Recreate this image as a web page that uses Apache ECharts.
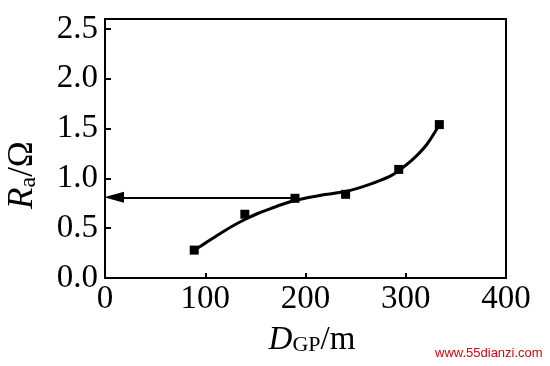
<!DOCTYPE html>
<html><head><meta charset="utf-8">
<script src="https://cdn.jsdelivr.net/npm/echarts@6/dist/echarts.min.js"></script>
<style>html,body{margin:0;padding:0;background:#fff}#c{width:550px;height:366px}</style>
</head><body><div id="c"></div>
<script>
// measured points
const pointD = [89, 139.5, 189.5, 240, 293, 333.5];
const pointR = [0.28, 0.64, 0.80, 0.84, 1.09, 1.54];
// fitted curve
const curveD = [89, 100, 113, 126, 140, 153, 166, 180, 190, 218, 241, 264, 284, 294, 307, 321, 333];
const curveR = [0.28, 0.35, 0.435, 0.515, 0.59, 0.65, 0.70, 0.75, 0.78, 0.835, 0.87, 0.94, 1.02, 1.085, 1.19, 1.34, 1.53];
// arrow (horizontal reading line)
const arrowFrom = [190, 0.81];
const arrowTo = [9, 0.81];
const xTicks = [0, 100, 200, 300, 400];
const yTicks = [0, 0.5, 1.0, 1.5, 2.0, 2.5];

const serif = '"Liberation Serif","Times New Roman",serif';
const chart = echarts.init(document.getElementById('c'));
chart.setOption({
  animation: false,
  backgroundColor: '#fff',
  grid: {left: 105, right: 44, top: 19, bottom: 88, show: true, borderColor: '#000', borderWidth: 2, backgroundColor: 'transparent'},
  xAxis: {
    type: 'value', min: 0, max: 400, interval: 100,
    axisLine: {lineStyle: {color: '#000', width: 2}},
    axisTick: {inside: true, length: 5, lineStyle: {color: '#000', width: 2}},
    splitLine: {show: false},
    axisLabel: {color: '#000', fontFamily: serif, fontSize: 33, margin: 5,
      formatter: v => xTicks.indexOf(v) >= 0 ? String(v) : ''}
  },
  yAxis: {
    type: 'value', min: 0, max: 2.6, interval: 0.5,
    axisLine: {lineStyle: {color: '#000', width: 2}},
    axisTick: {inside: true, length: 6, lineStyle: {color: '#000', width: 2}},
    splitLine: {show: false},
    axisLabel: {color: '#000', fontFamily: serif, fontSize: 33, margin: 7, showMaxLabel: false,
      formatter: v => yTicks.some(t => Math.abs(t - v) < 1e-9) ? v.toFixed(1) : ''}
  },
  graphic: [
    {type: 'text', x: 23, y: 175, rotation: Math.PI / 2, style: {
      text: '{r|R}{s|a}{n|/Ω}', align: 'center', verticalAlign: 'middle',
      rich: {
        r: {fontFamily: serif, fontStyle: 'italic', fontSize: 35, fill: '#000'},
        s: {fontFamily: serif, fontSize: 24, fill: '#000', padding: [11, 0, 0, 0]},
        n: {fontFamily: serif, fontSize: 35, fill: '#000'}
      }}},
    {type: 'text', x: 312, y: 340, style: {
      text: '{r|D}{s|GP}{n|/m}', align: 'center', verticalAlign: 'middle',
      rich: {
        r: {fontFamily: serif, fontStyle: 'italic', fontSize: 33, fill: '#000'},
        s: {fontFamily: serif, fontSize: 22, fill: '#000', padding: [11, 0, 0, 0]},
        n: {fontFamily: serif, fontSize: 33, fill: '#000'}
      }}},
    {type: 'text', x: 435, y: 353, style: {
      text: 'www.55dianzi.com', verticalAlign: 'middle',
      fontFamily: '"Liberation Sans",Arial,sans-serif', fontSize: 13, fill: '#d8000c'}}
  ],
  series: [
    {type: 'line', data: curveD.map((d, i) => [d, curveR[i]]), smooth: 0.3, showSymbol: false,
      lineStyle: {color: '#000', width: 3}, z: 2,
      markLine: {silent: true, symbol: ['none', 'triangle'], symbolSize: [11, 20],
        label: {show: false}, lineStyle: {color: '#000', width: 2, type: 'solid'},
        data: [[{coord: arrowFrom}, {coord: arrowTo}]]}},
    {type: 'scatter', data: pointD.map((d, i) => [d, pointR[i]]), symbol: 'rect', symbolSize: 9,
      itemStyle: {color: '#000', opacity: 1}, z: 3}
  ]
});
</script></body></html>
